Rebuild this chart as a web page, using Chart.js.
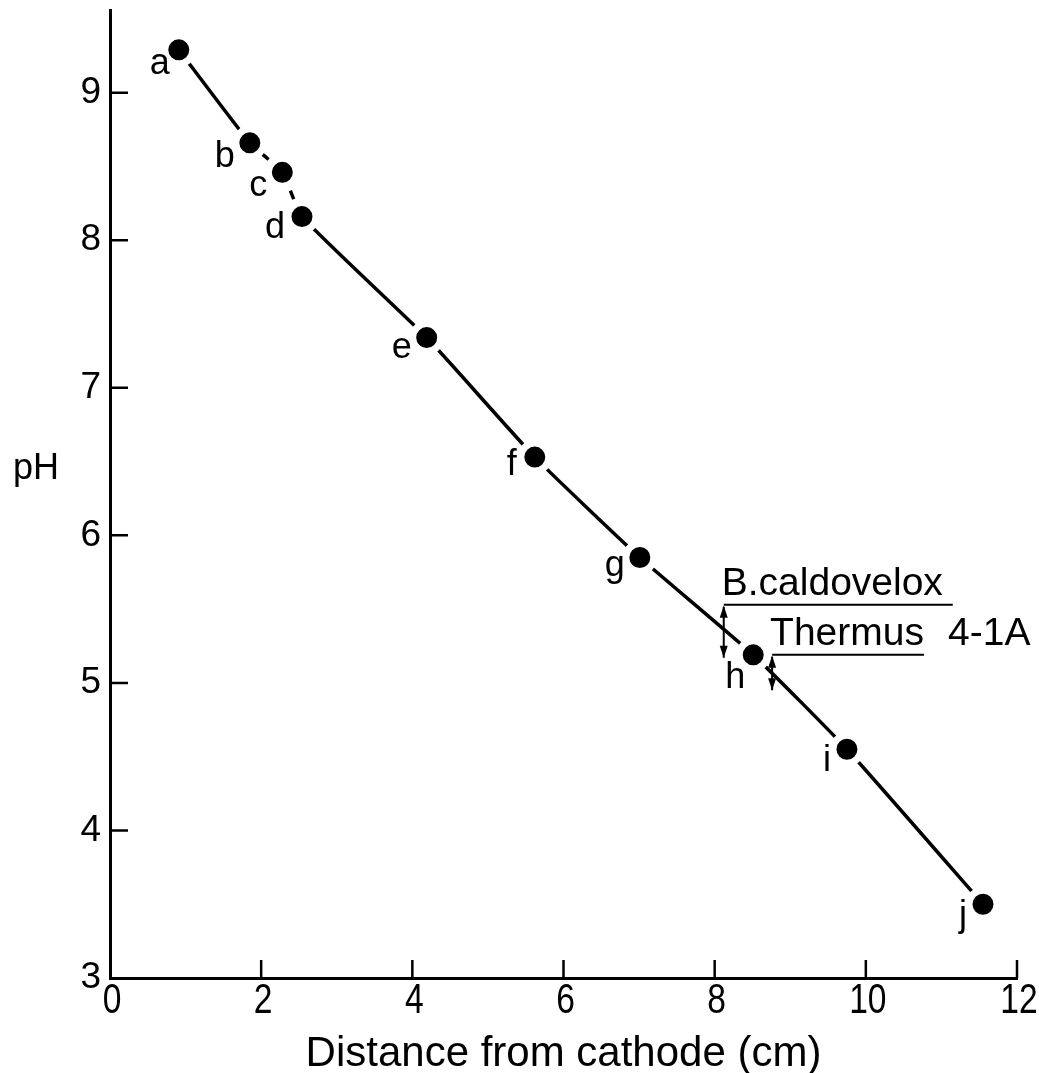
<!DOCTYPE html>
<html>
<head>
<meta charset="utf-8">
<script src="https://cdn.jsdelivr.net/npm/chart.js@4.4.1/dist/chart.umd.min.js"></script>
<style>
  html, body { margin: 0; padding: 0; background: #fff; }
  canvas { display: block; }
</style>
</head>
<body>
<canvas id="phChart" width="1039" height="1073"></canvas>
<script>
// data
const pointNames = ['a', 'b', 'c', 'd', 'e', 'f', 'g', 'h', 'i', 'j'];
const distance = [0.91, 1.85, 2.28, 2.54, 4.19, 5.62, 7.01, 8.51, 9.75, 11.55];
const phValues = [9.29, 8.66, 8.46, 8.16, 7.34, 6.53, 5.85, 5.19, 4.55, 3.50];
const xTicks = [0, 2, 4, 6, 8, 10, 12];
const yTicks = [3, 4, 5, 6, 7, 8, 9];

// labelled markers on the curve (cm / pH)
const annotations = [
    { text: 'B.caldovelox', extra: '', x: 8.12, x2: 11.15, y: 5.53, yArrow: 5.17 },
    { text: 'Thermus', extra: '4-1A', x: 8.76, x2: 10.77, y: 5.19, yArrow: 4.95 }
];

// letter offsets next to each point (px)
const labelOffsets = [
    [-19, 14], [-25, 14], [-24, 14], [-27, 11], [-25, 10],
    [-23, 8], [-25, 9], [-18, 23], [-20, 12], [-20, 12]
];

const SANS = '"Liberation Sans", Arial, Helvetica, sans-serif';

function arrowHead(ctx, x, y, dir) {
    // dir = -1 pointing up, 1 pointing down
    ctx.beginPath();
    ctx.moveTo(x, y);
    ctx.lineTo(x - 4, y - dir * 12);
    ctx.lineTo(x + 4, y - dir * 12);
    ctx.closePath();
    ctx.fill();
}

const extrasPlugin = {
    id: 'extras',
    afterDraw(chart) {
        const ctx = chart.ctx;
        const xs = chart.scales.x;
        const ys = chart.scales.y;
        const area = chart.chartArea;
        ctx.save();
        ctx.strokeStyle = '#000';
        ctx.fillStyle = '#000';
        ctx.lineWidth = 2.5;

        // inward ticks
        ctx.beginPath();
        xTicks.forEach(v => {
            if (v === 0) return;
            const px = xs.getPixelForValue(v);
            ctx.moveTo(px, area.bottom);
            ctx.lineTo(px, area.bottom - 18);
        });
        yTicks.forEach(v => {
            if (v === 3) return;
            const py = ys.getPixelForValue(v);
            ctx.moveTo(area.left, py);
            ctx.lineTo(area.left + 18, py);
        });
        ctx.stroke();

        // x tick labels, condensed like the original lettering
        ctx.font = '42px ' + SANS;
        ctx.textAlign = 'center';
        ctx.textBaseline = 'middle';
        xTicks.forEach(v => {
            const px = xs.getPixelForValue(v);
            ctx.save();
            ctx.translate(px + 2, area.bottom + 23);
            ctx.scale(0.8, 1);
            ctx.fillText(String(v), 0, 0);
            ctx.restore();
        });

        // y title
        ctx.font = '36px ' + SANS;
        ctx.fillText('pH', 36, ys.getPixelForValue(6.45));

        // point letters
        ctx.font = '36px ' + SANS;
        const meta = chart.getDatasetMeta(0);
        meta.data.forEach((pt, i) => {
            const off = labelOffsets[i];
            ctx.fillText(pointNames[i], pt.x + off[0], pt.y + off[1]);
        });

        // annotations
        ctx.font = '39px ' + SANS;
        ctx.textAlign = 'left';
        ctx.textBaseline = 'alphabetic';
        ctx.lineWidth = 2;
        annotations.forEach(a => {
            const x1 = xs.getPixelForValue(a.x);
            const x2 = xs.getPixelForValue(a.x2);
            const y1 = ys.getPixelForValue(a.y);
            const y2 = ys.getPixelForValue(a.yArrow);
            ctx.fillText(a.text, x1 - 2, y1 - 10);
            if (a.extra) {
                ctx.fillText(a.extra, x2 + 24, y1 - 10);
            }
            ctx.beginPath();
            ctx.moveTo(x1, y1);
            ctx.lineTo(x2, y1);
            ctx.moveTo(x1, y1 + 2);
            ctx.lineTo(x1, y2);
            ctx.stroke();
            arrowHead(ctx, x1, y1 + 1, -1);
            arrowHead(ctx, x1, y2, 1);
        });
        ctx.restore();
    }
};

const ctx = document.getElementById('phChart').getContext('2d');
new Chart(ctx, {
    type: 'line',
    data: {
        datasets: [{
            data: distance.map((d, i) => ({ x: d, y: phValues[i] })),
            borderColor: '#000',
            borderWidth: 3.5,
            tension: 0.15,
            pointRadius: 14,
            pointBackgroundColor: '#000',
            pointBorderColor: '#fff',
            pointBorderWidth: 7,
            segment: {
                borderDash: c => (c.p0DataIndex === 1 || c.p0DataIndex === 2) ? [9, 7] : undefined
            }
        }]
    },
    options: {
        responsive: false,
        animation: false,
        devicePixelRatio: 1,
        layout: { autoPadding: false, padding: { top: 10, right: 22, left: 0, bottom: 0 } },
        plugins: {
            legend: { display: false },
            tooltip: { enabled: false }
        },
        scales: {
            x: {
                type: 'linear',
                min: 0,
                max: 12,
                afterFit: s => { s.height = 95; s.paddingLeft = 0; s.paddingRight = 0; },
                afterBuildTicks: s => { s.ticks = xTicks.map(v => ({ value: v })); },
                grid: { drawOnChartArea: false, drawTicks: false },
                border: { color: '#000', width: 3 },
                ticks: {
                    display: false
                },
                title: {
                    display: true,
                    text: 'Distance from cathode (cm)',
                    color: '#000',
                    padding: { top: 0, bottom: -2 },
                    font: { family: SANS, size: 42, lineHeight: 1 }
                }
            },
            y: {
                type: 'linear',
                min: 3,
                max: 9.56,
                afterFit: s => { s.width = 110; s.paddingTop = 0; s.paddingBottom = 0; },
                afterBuildTicks: s => { s.ticks = yTicks.map(v => ({ value: v })); },
                grid: { drawOnChartArea: false, drawTicks: false },
                border: { color: '#000', width: 3 },
                ticks: {
                    color: '#000',
                    padding: 9,
                    font: { family: SANS, size: 37 }
                }
            }
        }
    },
    plugins: [extrasPlugin]
});
</script>
</body>
</html>
